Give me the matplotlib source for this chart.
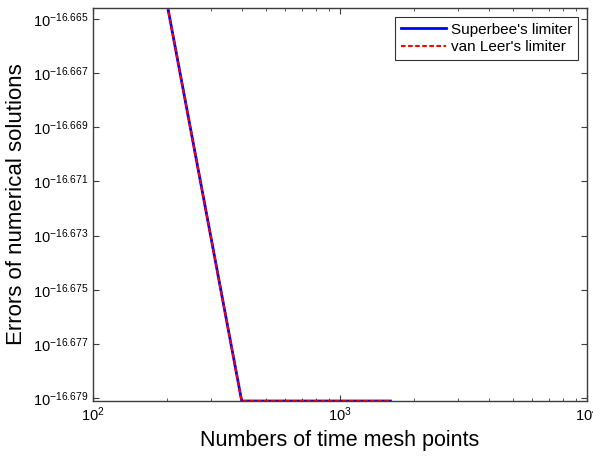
import numpy as np
import matplotlib
matplotlib.use("Agg")
import matplotlib.pyplot as plt
from matplotlib.ticker import FixedLocator, FixedFormatter, NullLocator, LogLocator

plt.rcParams['font.family'] = ['Liberation Sans', 'DejaVu Sans']
plt.rcParams['mathtext.fontset'] = 'custom'
plt.rcParams['mathtext.rm'] = 'Liberation Sans'
plt.rcParams['mathtext.it'] = 'Liberation Sans:italic'
plt.rcParams['mathtext.bf'] = 'Liberation Sans:bold'

# Data
mesh_points = [200, 400, 800, 1600]
log10_err_superbee = [-16.6645, -16.6791, -16.6791, -16.6791]
log10_err_vanleer = [-16.6645, -16.6791, -16.6791, -16.6791]
ytick_exponents = [-16.665, -16.667, -16.669, -16.671, -16.673, -16.675, -16.677, -16.679]
xtick_values = [1e2, 1e3, 1e4]
xtick_labels = [r'$\mathregular{10^{2}}$', r'$\mathregular{10^{3}}$', r'$\mathregular{10^{4}}$']

err_sb = [10.0 ** v for v in log10_err_superbee]
err_vl = [10.0 ** v for v in log10_err_vanleer]

fig = plt.figure(figsize=(5.93, 4.57), dpi=100)
ax = fig.add_axes([0.1568, 0.1225, 0.8331, 0.86])

ax.plot(mesh_points, err_sb, color='#0000ff', lw=2.0, ls='-', label="Superbee's limiter")
ax.plot(mesh_points, err_vl, color='#ff0000', lw=1.5, ls=(0, (2.2, 1.2)), label="van Leer's limiter")

ax.set_xscale('log')
ax.set_yscale('log')
ax.set_xlim(1e2, 1e4)
ax.set_ylim(10 ** -16.6791, 10 ** -16.6646)

ax.xaxis.set_major_locator(FixedLocator(xtick_values))
ax.xaxis.set_major_formatter(FixedFormatter(xtick_labels))
ax.xaxis.set_minor_locator(LogLocator(base=10, subs=np.arange(2, 10)))

yt = [10.0 ** e for e in ytick_exponents]
ax.yaxis.set_major_locator(FixedLocator(yt))
ax.yaxis.set_major_formatter(FixedFormatter([r'$\mathregular{10^{%s}}$' % ('%.3f' % e) for e in ytick_exponents]))
ax.yaxis.set_minor_locator(NullLocator())

spine_col = '#3c3c3c'
for s in ax.spines.values():
    s.set_color(spine_col)
    s.set_linewidth(1.0)

ax.tick_params(which='both', direction='in', top=True, right=True, colors='black',
               labelsize=10.5, color=spine_col)
ax.tick_params(which='major', length=4)
ax.tick_params(which='minor', length=2.5)

ax.set_xlabel('Numbers of time mesh points', fontsize=15.5, labelpad=4)
ax.set_ylabel('Errors of numerical solutions', fontsize=16, labelpad=4)

leg = ax.legend(loc='upper right', fontsize=11, frameon=True, fancybox=False,
                edgecolor='black', borderaxespad=0.6, handlelength=3.0,
                handletextpad=0.3, borderpad=0.35, labelspacing=0.25)
leg.get_frame().set_linewidth(0.8)

fig.savefig('out.png', dpi=100)
